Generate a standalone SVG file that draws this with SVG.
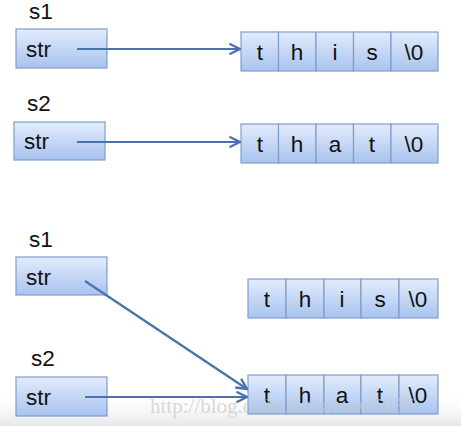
<svg xmlns="http://www.w3.org/2000/svg" width="461" height="426" viewBox="0 0 461 426">
<defs>
<linearGradient id="g" x1="0" y1="0" x2="0" y2="1">
<stop offset="0" stop-color="#e3ecfc"/>
<stop offset="1" stop-color="#a8c3ef"/>
</linearGradient>
<linearGradient id="bot" x1="0" y1="0" x2="0" y2="1">
<stop offset="0" stop-color="#ffffff" stop-opacity="0"/>
<stop offset="1" stop-color="#e6e6e6"/>
</linearGradient>
<marker id="ah" viewBox="0 0 10 10" refX="9" refY="5" markerWidth="6" markerHeight="6" orient="auto" markerUnits="strokeWidth">
<path d="M1,1 L9,5 L1,9" fill="none" stroke="#4a72b0" stroke-width="1.8"/>
</marker>
</defs>
<style>
.box{fill:url(#g);stroke:#7f9dcc;stroke-width:1.2}
.t{font-family:"Liberation Sans",Arial,sans-serif;font-size:22.5px;fill:#111}
.c{text-anchor:middle}
.ln{stroke:#4a72b0;stroke-width:2.2;fill:none;marker-end:url(#ah)}
.wm{font-family:"Liberation Serif","DejaVu Serif",serif;font-size:21px;fill:#c8c8c8;fill-opacity:0.7}
</style>
<rect width="461" height="426" fill="#fff"/>
<rect x="0" y="392" width="461" height="34" fill="url(#bot)"/>
<g id="s1a">
<text class="t" x="29" y="19">s1</text>
<rect class="box" x="16" y="29" width="91" height="39"/>
<text class="t" x="26" y="57">str</text>
</g>
<g id="s2a">
<text class="t" x="27" y="111">s2</text>
<rect class="box" x="14" y="122" width="91" height="38"/>
<text class="t" x="24" y="149">str</text>
</g>
<g id="arr1">
<rect class="box" x="241" y="32" width="37.5" height="39"/>
<rect class="box" x="278.5" y="32" width="37.5" height="39"/>
<rect class="box" x="316" y="32" width="37.5" height="39"/>
<rect class="box" x="353.5" y="32" width="37.5" height="39"/>
<rect class="box" x="391" y="32" width="47" height="39"/>
<text class="t c" x="260" y="60">t</text>
<text class="t c" x="297" y="60">h</text>
<text class="t c" x="335" y="60">i</text>
<text class="t c" x="372" y="60">s</text>
<text class="t c" x="414" y="60">\0</text>
</g>
<g id="arr2">
<rect class="box" x="241" y="124" width="37.5" height="39"/>
<rect class="box" x="278.5" y="124" width="37.5" height="39"/>
<rect class="box" x="316" y="124" width="37.5" height="39"/>
<rect class="box" x="353.5" y="124" width="37.5" height="39"/>
<rect class="box" x="391" y="124" width="47" height="39"/>
<text class="t c" x="260" y="152">t</text>
<text class="t c" x="297" y="152">h</text>
<text class="t c" x="335" y="152">a</text>
<text class="t c" x="372" y="152">t</text>
<text class="t c" x="414" y="152">\0</text>
</g>
<g id="s1b">
<text class="t" x="29" y="247">s1</text>
<rect class="box" x="16" y="257" width="91" height="38"/>
<text class="t" x="26" y="285">str</text>
</g>
<g id="s2b">
<text class="t" x="31" y="366">s2</text>
<rect class="box" x="16" y="377" width="91" height="39"/>
<text class="t" x="26" y="405">str</text>
</g>
<g id="arr3">
<rect class="box" x="248" y="279" width="38" height="39"/>
<rect class="box" x="286" y="279" width="38" height="39"/>
<rect class="box" x="324" y="279" width="37" height="39"/>
<rect class="box" x="361" y="279" width="38" height="39"/>
<rect class="box" x="399" y="279" width="39" height="39"/>
<text class="t c" x="267" y="307">t</text>
<text class="t c" x="305" y="307">h</text>
<text class="t c" x="342" y="307">i</text>
<text class="t c" x="380" y="307">s</text>
<text class="t c" x="418" y="307">\0</text>
</g>
<g id="arr4">
<rect class="box" x="248" y="375" width="38" height="39"/>
<rect class="box" x="286" y="375" width="38" height="39"/>
<rect class="box" x="324" y="375" width="37" height="39"/>
<rect class="box" x="361" y="375" width="38" height="39"/>
<rect class="box" x="399" y="375" width="39" height="39"/>
<text class="t c" x="267" y="403">t</text>
<text class="t c" x="305" y="403">h</text>
<text class="t c" x="342" y="403">a</text>
<text class="t c" x="380" y="403">t</text>
<text class="t c" x="418" y="403">\0</text>
</g>
<g id="connectors">
<line class="ln" x1="77" y1="49" x2="240" y2="49"/>
<line class="ln" x1="77" y1="142" x2="240" y2="142"/>
<line class="ln" x1="85" y1="281" x2="247" y2="389"/>
<line class="ln" x1="85" y1="397" x2="247" y2="397"/>
</g>
<text class="wm" x="150" y="413">http://blog.csdn.net/shuow5055</text>
</svg>
